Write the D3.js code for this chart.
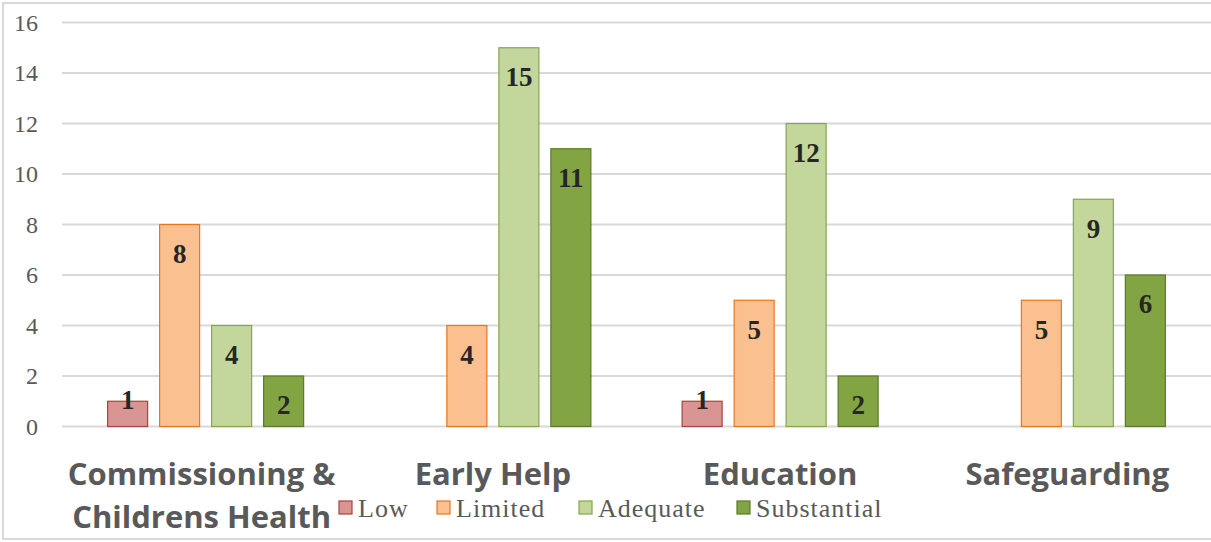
<!DOCTYPE html>
<html>
<head>
<meta charset="utf-8">
<script src="https://cdn.jsdelivr.net/npm/d3@7"></script>
<style>
  html, body { margin: 0; padding: 0; background: #fff; }
  svg { display: block; }
</style>
</head>
<body>
<svg id="chart" width="1211" height="542"></svg>
<script>
// Audit outcomes by service area
const categories = [["Commissioning &", "Childrens Health"], ["Early Help"], ["Education"], ["Safeguarding"]];
const seriesNames = ["Low", "Limited", "Adequate", "Substantial"];
const low = [1, 0, 1, 0];
const limited = [8, 4, 5, 5];
const adequate = [4, 15, 12, 9];
const substantial = [2, 11, 2, 6];
const yTicks = [0, 2, 4, 6, 8, 10, 12, 14, 16];

const seriesValues = [low, limited, adequate, substantial];
const fills = ["#d99594", "#fac08f", "#c3d69b", "#82a442"];
const strokes = ["#a8423f", "#e8761d", "#86a64a", "#5a7a2a"];

const svg = d3.select("#chart");
const W = 1211, H = 542;
const plot = { left: 62, right: 1211, top: 22.5, bottom: 426.5 };
const serif = "'Liberation Serif', 'DejaVu Serif', serif";

// outer chart border
svg.append("rect")
  .attr("x", 3).attr("y", 3).attr("width", W + 10).attr("height", H - 6)
  .attr("fill", "none").attr("stroke", "#d9d9d9").attr("stroke-width", 2);

const x0 = d3.scaleBand()
  .domain(d3.range(categories.length))
  .range([plot.left, plot.right])
  .paddingInner(0).paddingOuter(0);

const groupWidth = 197;
const x1 = d3.scaleBand()
  .domain(d3.range(seriesNames.length))
  .range([0, groupWidth])
  .paddingInner(11 / 52).paddingOuter(0);

const y = d3.scaleLinear().domain([0, 16]).range([plot.bottom, plot.top]);

// gridlines
svg.append("g").selectAll("line").data(yTicks).join("line")
  .attr("x1", plot.left).attr("x2", plot.right)
  .attr("y1", d => y(d)).attr("y2", d => y(d))
  .attr("stroke", "#d9d9d9").attr("stroke-width", 2);

// value axis labels
const yAxis = d3.axisLeft(y).tickValues(yTicks).tickSize(0).tickPadding(0);
const yg = svg.append("g").attr("transform", "translate(38,0)").call(yAxis);
yg.select(".domain").remove();
yg.selectAll("text")
  .attr("font-family", serif)
  .attr("font-size", 24).attr("fill", "#595959").attr("dy", "0.33em");

// bars with value labels inside the top end
const groups = svg.append("g").selectAll("g").data(categories.map((c, i) => i)).join("g")
  .attr("transform", i => `translate(${x0(i) + (x0.bandwidth() - groupWidth) / 2},0)`);

groups.each(function(ci) {
  const g = d3.select(this);
  const vals = seriesValues.map((s, si) => ({ si, v: s[ci] })).filter(d => d.v > 0);
  g.selectAll("rect").data(vals).join("rect")
    .attr("x", d => x1(d.si) + 0.5)
    .attr("y", d => y(d.v))
    .attr("width", x1.bandwidth() - 1)
    .attr("height", d => y(0) - y(d.v))
    .attr("fill", d => fills[d.si])
    .attr("stroke", d => strokes[d.si])
    .attr("stroke-width", 1.2);
  g.selectAll("text").data(vals).join("text")
    .attr("x", d => x1(d.si) + x1.bandwidth() / 2)
    .attr("y", d => {
      const h = y(0) - y(d.v);
      return h < 32 ? y(0) - 27 : y(d.v) + 29;
    })
    .attr("dy", "0.35em")
    .attr("text-anchor", "middle")
    .attr("font-family", serif)
    .attr("font-weight", "bold")
    .attr("font-size", 27)
    .attr("fill", "#262626")
    .text(d => d.v);
});

// category labels
const catG = svg.append("g");
categories.forEach((lines, i) => {
  const cx = x0(i) + x0.bandwidth() / 2 - (lines.length > 1 ? 4 : 0);
  lines.forEach((ln, li) => {
    catG.append("text")
      .attr("x", cx)
      .attr("y", 485 + li * 43)
      .attr("text-anchor", "middle")
      .attr("font-family", "'Open Sans', sans-serif")
      .attr("font-weight", "bold")
      .attr("font-size", 31)
      .attr("fill", "#595959")
      .text(ln);
  });
});

// legend
const legendX = [339, 437, 579, 737];
const lg = svg.append("g");
seriesNames.forEach((name, i) => {
  lg.append("rect")
    .attr("x", legendX[i]).attr("y", 501).attr("width", 13).attr("height", 13)
    .attr("fill", fills[i]).attr("stroke", strokes[i]).attr("stroke-width", 1.2);
  lg.append("text")
    .attr("x", legendX[i] + 19).attr("y", 517)
    .attr("font-family", serif)
    .attr("font-size", 26)
    .attr("letter-spacing", 1)
    .attr("fill", "#595959")
    .text(name);
});
</script>
</body>
</html>
